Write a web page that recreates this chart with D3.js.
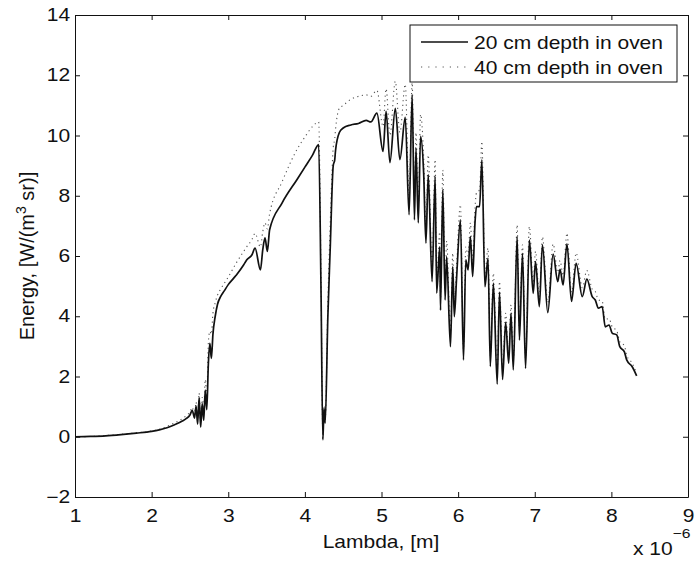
<html>
<head>
<meta charset="UTF-8">
<title>Energy spectrum in oven</title>
<script src="https://d3js.org/d3.v7.min.js"></script>
<style>
  body { margin: 0; background: #fff; }
  svg { background: #fff; }
  text { font-family: "Liberation Sans", Arial, sans-serif; fill: #111; }
  .axis text { font-size: 17.5px; }
  .axis path, .axis line { stroke: #111; stroke-width: 1; }
  .lbl { font-size: 17.5px; }
</style>
</head>
<body>
<svg width="695" height="561"></svg>
<script>
// wavelength in micrometers (axis is shown as x 10^-6 m)
var lambda = [1.0, 1.2, 1.4, 1.6, 1.8, 2.0, 2.1, 2.2, 2.3, 2.4, 2.45, 2.5, 2.53, 2.56, 2.58, 2.60, 2.62, 2.64, 2.66, 2.68,
  2.70, 2.72, 2.74, 2.76, 2.78, 2.80, 2.83, 2.86, 2.90, 2.95, 3.00, 3.10, 3.20, 3.24, 3.31, 3.35, 3.42, 3.45, 3.48, 3.51,
  3.54, 3.70, 3.90, 4.00, 4.10, 4.18, 4.21, 4.235, 4.25, 4.265, 4.30, 4.33, 4.37, 4.39, 4.40, 4.45, 4.50, 4.60, 4.70, 4.80,
  4.86, 4.94, 5.02, 5.06, 5.11, 5.18, 5.24, 5.31, 5.36, 5.40, 5.43, 5.45, 5.48, 5.51, 5.55, 5.58, 5.61, 5.66, 5.70, 5.72,
  5.76, 5.77, 5.80, 5.83, 5.85, 5.90, 5.93, 5.95, 5.98, 6.03, 6.07, 6.10, 6.13, 6.16, 6.19, 6.22, 6.24, 6.28, 6.31, 6.35,
  6.39, 6.42, 6.46, 6.51, 6.54, 6.58, 6.62, 6.66, 6.69, 6.72, 6.77, 6.80, 6.84, 6.88, 6.93, 6.98, 7.01, 7.06, 7.10, 7.17,
  7.24, 7.30, 7.33, 7.37, 7.42, 7.48, 7.54, 7.62, 7.68, 7.75, 7.79, 7.83, 7.88, 7.92, 7.97, 8.01, 8.07, 8.11, 8.17, 8.20,
  8.27, 8.33];

// 20 cm depth in oven
var energy20 = [0.00, 0.01, 0.03, 0.07, 0.12, 0.18, 0.23, 0.30, 0.40, 0.52, 0.60, 0.72, 0.88, 0.62, 1.02, 0.42, 1.30, 0.32, 1.10, 0.55,
  1.55, 0.90, 2.40, 3.10, 2.60, 3.40, 4.00, 4.40, 4.65, 4.85, 5.05, 5.35, 5.70, 5.87, 6.04, 6.26, 5.54, 6.20, 6.60, 6.15,
  6.87, 7.75, 8.55, 8.95, 9.35, 9.70, 5.00, -0.10, 0.95, 0.45, 4.00, 6.20, 9.00, 9.20, 9.50, 10.10, 10.25, 10.35, 10.40, 10.50,
  10.45, 10.74, 9.47, 10.80, 9.10, 10.90, 9.20, 10.60, 7.37, 11.35, 7.20, 9.58, 7.10, 9.97, 8.76, 6.43, 8.70, 5.15, 8.64, 4.77,
  6.30, 4.20, 8.20, 4.54, 5.98, 2.99, 5.65, 3.99, 5.27, 7.20, 2.55, 5.87, 5.54, 6.64, 5.32, 7.10, 7.64, 7.64, 9.19, 4.98,
  5.93, 2.33, 5.10, 1.75, 4.80, 1.90, 3.80, 2.44, 4.10, 2.22, 6.64, 3.21, 6.09, 2.27, 6.53, 4.76, 5.81, 4.32, 6.37, 4.12,
  6.06, 5.15, 5.56, 5.04, 6.40, 4.49, 5.76, 4.65, 5.23, 4.65, 4.54, 4.27, 4.32, 3.65, 3.71, 3.44, 3.38, 2.99, 2.82, 2.55,
  2.33, 2.02];

// 40 cm depth in oven
var energy40 = [0.00, 0.01, 0.04, 0.08, 0.13, 0.19, 0.25, 0.34, 0.46, 0.60, 0.70, 0.82, 0.98, 0.75, 1.15, 0.60, 1.45, 0.50, 1.30, 0.85,
  1.90, 1.30, 3.10, 3.50, 3.40, 4.10, 4.45, 4.70, 4.90, 5.10, 5.30, 5.75, 6.15, 6.30, 6.55, 6.75, 6.30, 6.80, 7.10, 6.90,
  7.40, 8.45, 9.55, 9.95, 10.30, 10.45, 5.50, -0.05, 1.00, 0.55, 4.50, 7.00, 9.60, 9.90, 10.20, 10.90, 11.00, 11.20, 11.30, 11.35,
  11.30, 11.50, 10.30, 11.55, 10.00, 11.80, 10.10, 11.70, 8.00, 11.75, 7.80, 10.10, 7.60, 10.70, 9.30, 6.90, 9.35, 5.60, 9.20, 5.20,
  6.80, 4.60, 8.85, 5.00, 6.50, 3.40, 6.10, 4.40, 5.70, 7.70, 2.90, 6.30, 6.00, 7.10, 5.80, 7.60, 8.10, 8.20, 9.80, 5.40,
  6.26, 2.70, 5.43, 2.10, 5.15, 2.25, 4.10, 2.75, 4.38, 2.55, 7.03, 3.55, 6.37, 2.60, 6.98, 5.10, 6.15, 4.65, 6.64, 4.45,
  6.40, 5.45, 5.85, 5.35, 6.76, 4.80, 6.10, 4.95, 5.52, 4.90, 4.82, 4.55, 4.50, 3.90, 3.92, 3.65, 3.52, 3.15, 3.02, 2.70,
  2.45, 2.10];

var xTicks = [1, 2, 3, 4, 5, 6, 7, 8, 9];
var yTicks = [-2, 0, 2, 4, 6, 8, 10, 12, 14];
var seriesNames = ["20 cm depth in oven", "40 cm depth in oven"];

var SX = 1.2; // the scanned figure is a bit wider than tall, so text is stretched

var svg = d3.select("svg");

var xScale = d3.scaleLinear().domain([1, 9]).range([75, 688]);
var yScale = d3.scaleLinear().domain([-2, 14]).range([497, 15]);

// axes with inward ticks on all four sides
svg.append("g")
    .attr("class", "axis")
    .attr("transform", "translate(0,497)")
    .call(d3.axisBottom(xScale).tickValues(xTicks).tickFormat(d3.format("d")).tickSize(-5).tickSizeOuter(0).tickPadding(13))
    .selectAll("text").attr("transform", "scale(" + SX + ",1)");

svg.append("g")
    .attr("class", "axis")
    .attr("transform", "translate(75,0)")
    .call(d3.axisLeft(yScale).tickValues(yTicks).tickFormat(d => d < 0 ? "\u2212" + Math.abs(d) : d).tickSize(-5).tickSizeOuter(0).tickPadding(4))
    .selectAll("text").attr("transform", "scale(" + SX + ",1)");

svg.append("g")
    .attr("class", "axis")
    .attr("transform", "translate(0,15)")
    .call(d3.axisTop(xScale).tickValues(xTicks).tickFormat("").tickSize(-5).tickSizeOuter(0));

svg.append("g")
    .attr("class", "axis")
    .attr("transform", "translate(688,0)")
    .call(d3.axisRight(yScale).tickValues(yTicks).tickFormat("").tickSize(-5).tickSizeOuter(0));

var spectrumLine = d3.line()
    .x((d, i) => xScale(lambda[i]))
    .y(d => yScale(d))
    .curve(d3.curveMonotoneX);

// dotted series first so the solid one sits on top
svg.append("path")
    .datum(energy40)
    .attr("d", spectrumLine)
    .attr("fill", "none")
    .attr("stroke", "#555")
    .attr("stroke-width", 1.1)
    .attr("stroke-dasharray", "1.2,3.5");

svg.append("path")
    .datum(energy20)
    .attr("d", spectrumLine)
    .attr("fill", "none")
    .attr("stroke", "#111")
    .attr("stroke-width", 1.7)
    .attr("stroke-linejoin", "round");

// legend
var legend = svg.append("g");
legend.append("rect")
    .attr("x", 410).attr("y", 25)
    .attr("width", 267).attr("height", 57)
    .attr("fill", "#fff")
    .attr("stroke", "#111");

legend.append("line")
    .attr("x1", 421).attr("x2", 468).attr("y1", 42).attr("y2", 42)
    .attr("stroke", "#111").attr("stroke-width", 1.4);
legend.append("line")
    .attr("x1", 421).attr("x2", 468).attr("y1", 67).attr("y2", 67)
    .attr("stroke", "#555").attr("stroke-width", 1.1).attr("stroke-dasharray", "1.2,6");

legend.selectAll("text.leg")
    .data(seriesNames)
    .enter()
    .append("text")
    .attr("class", "lbl leg")
    .attr("transform", (d, i) => "translate(474," + (49 + i * 25) + ") scale(" + SX + ",1)")
    .text(d => d);

// axis titles
svg.append("text")
    .attr("class", "lbl")
    .attr("text-anchor", "middle")
    .attr("transform", "translate(381,548) scale(" + SX + ",1)")
    .text("Lambda, [m]");

var ylab = svg.append("text")
    .attr("text-anchor", "middle")
    .style("font-size", "20px")
    .attr("transform", "translate(34,256) rotate(-90) scale(1,1.05)");
ylab.append("tspan").text("Energy, [W/(m");
ylab.append("tspan").attr("dy", -8).style("font-size", "14px").text("3");
ylab.append("tspan").attr("dy", 8).text(" sr)]");

var expo = svg.append("text")
    .attr("class", "lbl")
    .attr("transform", "translate(633,555) scale(" + SX + ",1)");
expo.append("tspan").text("x 10");
expo.append("tspan").attr("dy", -17).style("font-size", "13px").text("\u22126");
</script>
</body>
</html>
